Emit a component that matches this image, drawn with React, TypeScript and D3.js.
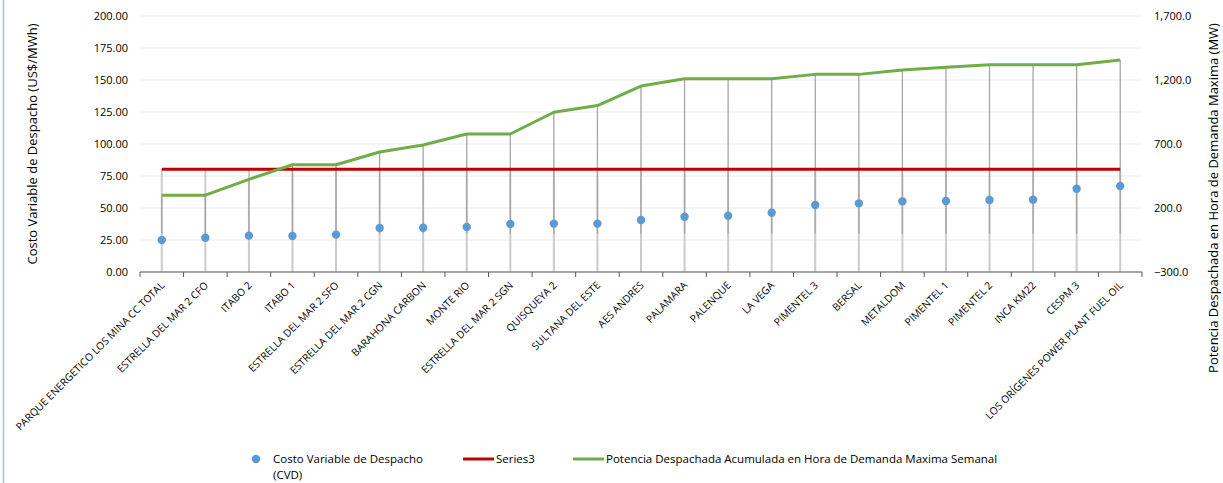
import React from "react";
import * as d3 from "d3";

const categories = [
  "PARQUE ENERGETICO LOS MINA CC TOTAL",
  "ESTRELLA DEL MAR 2 CFO",
  "ITABO 2",
  "ITABO 1",
  "ESTRELLA DEL MAR 2 SFO",
  "ESTRELLA DEL MAR 2 CGN",
  "BARAHONA CARBON",
  "MONTE RIO",
  "ESTRELLA DEL MAR 2 SGN",
  "QUISQUEYA 2",
  "SULTANA DEL ESTE",
  "AES ANDRES",
  "PALAMARA",
  "PALENQUE",
  "LA VEGA",
  "PIMENTEL 3",
  "BERSAL",
  "METALDOM",
  "PIMENTEL 1",
  "PIMENTEL 2",
  "INCA KM22",
  "CESPM 3",
  "LOS ORÍGENES POWER PLANT FUEL OIL",
];

const cvd = [25.0, 26.8, 28.4, 28.1, 29.2, 34.4, 34.6, 35.2, 37.5, 37.8, 37.8, 40.6, 43.2, 44.0, 46.3, 52.3, 53.6, 55.2, 55.5, 56.3, 56.5, 65.0, 67.2];
const series3 = categories.map(() => 80.3);
const potencia = [300, 300, 424, 538, 538, 637, 692, 778, 778, 948, 1000, 1153, 1210, 1210, 1210, 1244, 1244, 1278, 1299, 1320, 1320, 1320, 1356];

const leftTicks = [0, 25, 50, 75, 100, 125, 150, 175, 200];
const rightTicks = [-300, 200, 700, 1200, 1700];

const leftTitle = "Costo Variable de Despacho (US$/MWh)";
const rightTitle = "Potencia Despachada en Hora de Demanda Maxima (MW)";
const legendCvd = ["Costo Variable de Despacho", "(CVD)"];
const legendS3 = "Series3";
const legendPot = "Potencia Despachada Acumulada en Hora de Demanda Maxima Semanal";

const FONT = "'Open Sans', sans-serif";

export default function App() {
  const W = 1223, H = 483;
  const x0 = 140, x1 = 1142, yTop = 16, yBot = 272;
  const x = d3.scaleBand<string>().domain(categories).range([x0, x1]).padding(0);
  const cx = (i: number) => (x(categories[i]) as number) + x.bandwidth() / 2;
  const yL = d3.scaleLinear().domain([0, 200]).range([yBot, yTop]);
  const yR = d3.scaleLinear().domain([-300, 1700]).range([yBot, yTop]);

  const greenLine = d3.line<number>().x((_, i) => cx(i)).y((d) => yR(d))(potencia) as string;
  const redLine = d3.line<number>().x((_, i) => cx(i)).y((d) => yL(d))(series3) as string;

  const fmtL = d3.format(".2f");
  const fmtR = d3.format(",.1f");
  const LY = 459;

  return (
    <svg width={W} height={H} style={{ position: "absolute", left: 0, top: 0, background: "#fff" }} fontFamily={FONT}>
      <line x1={3.5} x2={3.5} y1={0} y2={H} stroke="#a9c0de" strokeWidth={1.5} />
      {/* gridlines */}
      {leftTicks.map((t) => (
        <line key={"g" + t} x1={x0} x2={x1} y1={yL(t)} y2={yL(t)} stroke="#ececec" strokeWidth={1} />
      ))}
      {/* left tick labels */}
      {leftTicks.map((t) => (
        <text key={"l" + t} x={128} y={yL(t)} dy="0.35em" textAnchor="end" fontSize={11} fill="#000">
          {fmtL(t)}
        </text>
      ))}
      {/* right tick labels */}
      {rightTicks.map((t) => (
        <text key={"r" + t} x={1154} y={yR(t)} dy="0.35em" textAnchor="start" fontSize={11} fill="#000">
          {fmtR(t)}
        </text>
      ))}
      {/* drop lines */}
      {categories.map((c, i) => (
        <line key={"dl" + i} x1={cx(i)} x2={cx(i)} y1={yL(series3[i])} y2={yBot} stroke="#cbcbcb" strokeWidth={2} />
      ))}
      {categories.map((c, i) => (
        <line key={"dh" + i} x1={cx(i)} x2={cx(i)} y1={yR(potencia[i])} y2={yR(0)} stroke="#a5a5a5" strokeWidth={1.3} />
      ))}
      {/* axis */}
      <line x1={x0} x2={x1} y1={yBot} y2={yBot} stroke="#595959" strokeWidth={1.2} />
      {d3.range(categories.length + 1).map((i) => {
        const xx = x0 + i * x.bandwidth();
        return <line key={"t" + i} x1={xx} x2={xx} y1={yBot} y2={yBot + 5} stroke="#595959" strokeWidth={1} />;
      })}
      {/* series */}
      <path d={redLine} fill="none" stroke="#c00000" strokeWidth={3} />
      <path d={greenLine} fill="none" stroke="#70ad47" strokeWidth={3} strokeLinejoin="round" />
      {cvd.map((v, i) => (
        <circle key={"c" + i} cx={cx(i)} cy={yL(v)} r={4.2} fill="#5b9bd5" />
      ))}
      {/* category labels */}
      {categories.map((c, i) => (
        <text key={"x" + i} transform={`translate(${cx(i) + 3.5},${286}) rotate(-45)`} textAnchor="end" fontSize={10.3} fill="#000">
          {c}
        </text>
      ))}
      {/* axis titles */}
      <text transform={`translate(37,144) rotate(-90)`} textAnchor="middle" fontSize={13} fill="#000">
        {leftTitle}
      </text>
      <text transform={`translate(1218,198) rotate(-90)`} textAnchor="middle" fontSize={13} fill="#000">
        {rightTitle}
      </text>
      {/* legend */}
      <circle cx={256} cy={LY} r={4.2} fill="#5b9bd5" />
      <text x={273} y={LY} dy="0.35em" fontSize={11.5} fill="#000">{legendCvd[0]}</text>
      <text x={273} y={LY + 16} dy="0.35em" fontSize={11.5} fill="#000">{legendCvd[1]}</text>
      <line x1={463} x2={494} y1={LY} y2={LY} stroke="#c00000" strokeWidth={3} />
      <text x={496} y={LY} dy="0.35em" fontSize={11.5} fill="#000">{legendS3}</text>
      <line x1={573} x2={604} y1={LY} y2={LY} stroke="#70ad47" strokeWidth={3} />
      <text x={606} y={LY} dy="0.35em" fontSize={11.5} fill="#000">{legendPot}</text>
    </svg>
  );
}
